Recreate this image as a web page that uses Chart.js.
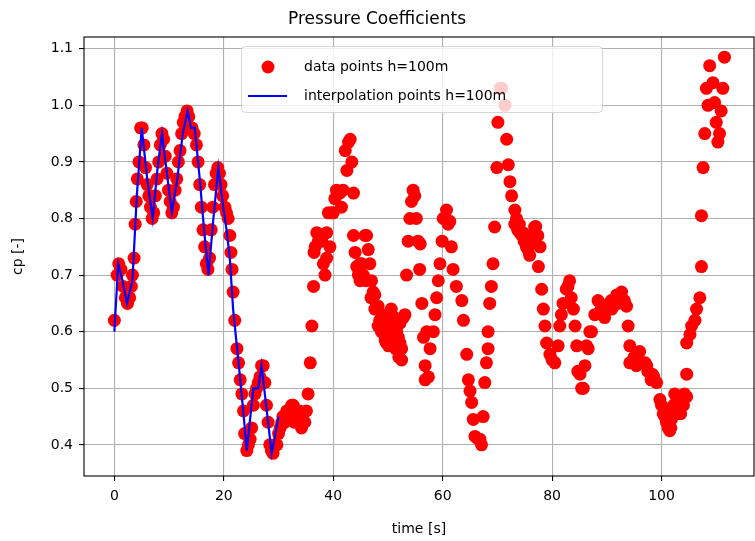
<!DOCTYPE html>
<html>
<head>
<meta charset="utf-8">
<script src="https://cdn.jsdelivr.net/npm/chart.js@4"></script>
<style>
  html, body { margin: 0; padding: 0; background: #fff; }
  #wrap { width: 755px; height: 541px; }
</style>
</head>
<body>
<div id="wrap"><canvas id="cpChart" width="755" height="541"></canvas></div>
<script>
// measured pressure coefficient, h=100m
const timeData = [
  0, 0.5, 0.8, 1.2, 1.6, 2.0, 2.4, 2.8, 3.1, 3.3, 3.6, 3.8, 4.0, 4.2, 4.5, 4.8, 5.1, 5.4, 5.7, 6.0,
  6.3, 6.6, 6.9, 7.2, 7.5, 7.8, 8.1, 8.4, 8.7, 9.0, 9.3, 9.6, 9.9, 10.2, 10.5, 10.8, 11.1, 11.4, 11.7, 12.0,
  12.3, 12.6, 12.9, 13.3, 13.6, 13.9, 14.2, 14.6, 15.0, 15.3, 15.6, 15.9, 16.2, 16.5, 16.8, 17.1, 17.4, 17.7, 18.0, 18.3,
  18.6, 18.9, 19.2, 19.5, 19.8, 20.2, 20.5, 20.8, 21.1, 21.3, 21.5, 21.7, 22.0, 22.4, 22.7, 23.0, 23.3, 23.6, 23.8, 24.2,
  24.5, 24.8, 25.1, 25.4, 25.7, 26.0, 26.3, 26.6, 26.9, 27.2, 27.5, 27.8, 28.1, 28.4, 28.7, 29.0, 29.4, 29.7, 30.0, 30.3,
  30.6, 31.0, 31.2, 31.6, 32.1, 32.4, 32.7, 33.0, 33.3, 33.6, 34.2, 34.8, 35.1, 35.4, 35.8, 36.1, 36.4, 36.5, 36.7, 37.0,
  37.3, 37.6, 37.9, 38.2, 38.5, 38.8, 38.8, 39.1, 39.4, 39.7, 40.0, 40.3, 40.6, 41.2, 41.5, 41.8, 42.2, 42.5, 42.8, 43.1,
  43.4, 43.7, 43.7, 44.3, 44.6, 44.9, 45.2, 45.8, 46.1, 46.4, 46.7, 47.0, 47.3, 47.6, 47.9, 48.2, 48.5, 48.9, 49.1, 49.2,
  49.5, 49.7, 50.0, 50.1, 50.6, 51.0, 51.2, 51.6, 52.2, 52.2, 52.5, 52.5, 52.8, 53.1, 53.4, 53.7, 54.0, 54.3, 54.6, 54.9,
  55.2, 55.5, 55.8, 55.9, 56.2, 56.5, 56.8, 56.8, 57.1, 57.4, 57.7, 58.3, 58.6, 58.9, 59.2, 59.5, 59.9, 60.1, 60.7, 61.0,
  61.3, 61.6, 61.9, 62.5, 63.5, 63.8, 64.4, 64.7, 65.0, 65.3, 65.6, 65.9, 66.5, 66.8, 67.1, 67.4, 67.7, 68.0, 68.3, 68.3,
  68.6, 68.9, 69.2, 69.5, 69.9, 70.1, 70.5, 70.8, 71.4, 71.7, 72.0, 72.3, 72.6, 73.2, 73.2, 73.7, 74.1, 74.5, 74.9, 75.3,
  75.9, 76.3, 76.8, 77.0, 77.4, 77.5, 77.8, 78.1, 78.4, 78.7, 79.0, 79.6, 80.0, 80.5, 81.1, 81.4, 81.7, 82.0, 82.6, 82.9,
  83.2, 83.5, 83.9, 84.2, 84.5, 84.7, 85.1, 85.4, 85.7, 86.0, 86.3, 86.6, 86.9, 87.2, 87.8, 88.4, 89.0, 89.6, 90.2, 90.5,
  90.8, 91.2, 91.8, 92.3, 92.7, 93.2, 93.6, 93.9, 94.2, 94.2, 95.0, 95.4, 96.0, 96.6, 97.0, 97.5, 98.1, 98.6, 99.1, 99.7,
  100.0, 100.3, 100.6, 100.9, 101.2, 101.5, 101.8, 102.1, 102.4, 102.7, 103.0, 103.3, 103.8, 104.2, 104.6, 104.6, 104.6, 105.2, 105.5, 106.1,
  106.4, 107.0, 107.3, 107.3, 107.6, 107.9, 108.2, 108.5, 108.8, 109.4, 109.7, 110.0, 110.3, 110.6, 110.9, 111.2, 111.5,
  // denser stretches
  30.8, 31.5, 32.0, 32.9, 33.8, 34.5, 44.0, 44.9, 45.5, 46.0, 46.9, 47.6, 48.2, 48.8, 49.4, 50.3, 50.9, 51.4, 51.9, 52.0,
  73.5, 74.0, 74.7, 75.1, 75.6, 76.1, 76.6, 89.3, 89.9, 90.9, 91.5, 92.0, 97.3, 98.3, 101.0, 101.7, 102.2, 103.5, 104.0
];
const cpData = [
  0.62, 0.70, 0.72, 0.71, 0.68, 0.66, 0.65, 0.66, 0.68, 0.70, 0.73, 0.79, 0.83, 0.87, 0.90, 0.96, 0.96, 0.93, 0.89, 0.86,
  0.84, 0.82, 0.80, 0.81, 0.84, 0.87, 0.90, 0.93, 0.95, 0.94, 0.91, 0.88, 0.85, 0.83, 0.81, 0.82, 0.85, 0.87, 0.90, 0.92,
  0.95, 0.97, 0.98, 0.99, 0.98, 0.96, 0.96, 0.95, 0.93, 0.90, 0.86, 0.82, 0.78, 0.75, 0.72, 0.71, 0.73, 0.78, 0.82, 0.86,
  0.88, 0.89, 0.88, 0.86, 0.84, 0.82, 0.81, 0.80, 0.77, 0.74, 0.71, 0.67, 0.62, 0.57, 0.545, 0.515, 0.49, 0.46, 0.42, 0.39,
  0.40, 0.41, 0.43, 0.47, 0.49, 0.50, 0.51, 0.52, 0.54, 0.54, 0.51, 0.47, 0.44, 0.40, 0.39, 0.385, 0.40, 0.40, 0.42, 0.43,
  0.44, 0.44, 0.44, 0.45, 0.46, 0.47, 0.47, 0.46, 0.45, 0.445, 0.43, 0.44, 0.46, 0.49, 0.545, 0.61, 0.68, 0.74, 0.75, 0.775,
  0.76, 0.77, 0.76, 0.72, 0.70, 0.73, 0.775, 0.81, 0.75, 0.81, 0.81, 0.835, 0.85, 0.845, 0.82, 0.85, 0.92, 0.885, 0.935, 0.94,
  0.90, 0.845, 0.77, 0.715, 0.70, 0.69, 0.72, 0.77, 0.77, 0.745, 0.72, 0.69, 0.67, 0.665, 0.645, 0.645, 0.62, 0.63, 0.60, 0.605,
  0.585, 0.58, 0.59, 0.575, 0.64, 0.62, 0.625, 0.60, 0.615, 0.58, 0.55, 0.57, 0.625, 0.63, 0.70, 0.76, 0.80, 0.83, 0.85, 0.84,
  0.80, 0.76, 0.71, 0.755, 0.65, 0.59, 0.54, 0.515, 0.60, 0.52, 0.57, 0.60, 0.63, 0.66, 0.69, 0.72, 0.76, 0.80, 0.815, 0.79,
  0.795, 0.75, 0.71, 0.68, 0.655, 0.62, 0.56, 0.515, 0.495, 0.475, 0.445, 0.415, 0.41, 0.41, 0.40, 0.45, 0.51, 0.545, 0.57, 0.60,
  0.65, 0.68, 0.72, 0.785, 0.89, 0.97, 1.03, 1.03, 1.00, 0.94, 0.895, 0.865, 0.84, 0.815, 0.79, 0.78, 0.775, 0.77, 0.76, 0.75,
  0.735, 0.77, 0.785, 0.786, 0.77, 0.715, 0.75, 0.675, 0.64, 0.61, 0.58, 0.56, 0.55, 0.545, 0.575, 0.61, 0.63, 0.65, 0.675, 0.68,
  0.69, 0.66, 0.64, 0.61, 0.575, 0.53, 0.525, 0.50, 0.50, 0.54, 0.575, 0.57, 0.60, 0.60, 0.63, 0.655, 0.64, 0.625, 0.64, 0.65,
  0.655, 0.645, 0.665, 0.66, 0.67, 0.655, 0.645, 0.61, 0.575, 0.545, 0.555, 0.54, 0.565, 0.545, 0.545, 0.53, 0.515, 0.52, 0.51, 0.48,
  0.47, 0.455, 0.45, 0.44, 0.43, 0.425, 0.445, 0.46, 0.49, 0.475, 0.455, 0.47, 0.48, 0.49, 0.485, 0.525, 0.58, 0.595, 0.61, 0.62,
  0.64, 0.66, 0.715, 0.805, 0.89, 0.95, 1.03, 1.00, 1.07, 1.04, 1.005, 0.97, 0.935, 0.95, 0.99, 1.03, 1.085,
  0.45, 0.46, 0.45, 0.44, 0.46, 0.44, 0.74, 0.72, 0.70, 0.69, 0.66, 0.64, 0.61, 0.60, 0.62, 0.60, 0.585, 0.57, 0.59, 0.555,
  0.80, 0.79, 0.775, 0.765, 0.745, 0.755, 0.76, 0.63, 0.64, 0.64, 0.655, 0.65, 0.54, 0.525, 0.46, 0.43, 0.47, 0.455, 0.47
];

// interpolated curve over the first 30 s
const interpTime = [0, 0.7, 1.5, 2.3, 3.3, 4.1, 5.0, 6.0, 7.0, 7.9, 8.7, 9.6, 10.5, 11.5, 12.5, 13.4, 14.0, 14.7,
  15.6, 16.4, 17.2, 18.1, 19.0, 19.9, 20.5, 21.1, 21.7, 22.7, 23.6, 24.2, 25.4, 26.3, 26.9, 28.75, 30.0];
const interpCp = [0.60, 0.72, 0.69, 0.65, 0.69, 0.84, 0.96, 0.87, 0.80, 0.89, 0.95, 0.88, 0.81, 0.87, 0.95, 0.99, 0.96, 0.96,
  0.87, 0.78, 0.70, 0.80, 0.89, 0.82, 0.78, 0.73, 0.64, 0.545, 0.455, 0.39, 0.50, 0.50, 0.54, 0.385, 0.45];

const xTicks = [0, 20, 40, 60, 80, 100];
const yTicks = [0.4, 0.5, 0.6, 0.7, 0.8, 0.9, 1.0, 1.1];

const FONT = 'DejaVu Sans';
const GRID = '#b0b0b0';

// matplotlib-like frame and legend box
const frameAndLegend = {
  id: 'frameAndLegend',
  afterDatasetsDraw(chart) {
    const ctx = chart.ctx;
    const x0 = 241, y0 = 46, w = 361, h = 66, r = 4;
    ctx.save();
    ctx.beginPath();
    ctx.roundRect(x0 + 0.5, y0 + 0.5, w, h, r);
    ctx.fillStyle = 'rgba(255,255,255,0.8)';
    ctx.fill();
    ctx.strokeStyle = 'rgba(204,204,204,0.8)';
    ctx.lineWidth = 1;
    ctx.stroke();

    const red = chart.data.datasets[1];
    const blue = chart.data.datasets[0];
    ctx.font = '14px "' + FONT + '"';
    ctx.textBaseline = 'middle';

    ctx.beginPath();
    ctx.arc(268, 67, red.pointRadius, 0, Math.PI * 2);
    ctx.fillStyle = red.backgroundColor;
    ctx.fill();
    ctx.fillStyle = '#000';
    ctx.fillText(red.label, 304, 67);

    ctx.beginPath();
    ctx.moveTo(248, 96);
    ctx.lineTo(287, 96);
    ctx.strokeStyle = blue.borderColor;
    ctx.lineWidth = blue.borderWidth;
    ctx.stroke();
    ctx.fillText(blue.label, 304, 96);
    ctx.restore();
  },
  afterDraw(chart) {
    const {ctx, chartArea: a} = chart;
    ctx.save();
    ctx.strokeStyle = '#000';
    ctx.lineWidth = 1.1;
    ctx.strokeRect(a.left, a.top, a.right - a.left, a.bottom - a.top);
    ctx.restore();
  }
};

new Chart(document.getElementById('cpChart'), {
  type: 'scatter',
  data: {
    datasets: [
      {
        label: 'interpolation points h=100m',
        data: interpTime.map((t, i) => ({x: t, y: interpCp[i]})),
        showLine: true,
        borderColor: '#0000ff',
        borderWidth: 2.2,
        pointRadius: 0,
        order: 0
      },
      {
        label: 'data points h=100m',
        data: timeData.map((t, i) => ({x: t, y: cpData[i]})),
        backgroundColor: '#ff0000',
        borderWidth: 0,
        pointRadius: 6.5,
        order: 1
      }
    ]
  },
  options: {
    responsive: false,
    animation: false,
    layout: { autoPadding: false, padding: { top: 0, right: 1, left: 0, bottom: 0 } },
    plugins: {
      legend: { display: false },
      tooltip: { enabled: false },
      title: {
        display: true,
        text: 'Pressure Coefficients',
        color: '#000',
        font: { family: FONT, size: 17, weight: 'normal' },
        padding: { top: 9, bottom: 7.6 }
      }
    },
    scales: {
      x: {
        type: 'linear',
        min: -5.55,
        max: 116.9,
        afterBuildTicks: s => { s.ticks = xTicks.map(v => ({value: v})); },
        afterFit: s => { s.height = 65; },
        ticks: { color: '#000', font: { family: FONT, size: 14 }, padding: 7, maxRotation: 0 },
        grid: { color: GRID, lineWidth: 1.1, tickColor: '#000', tickLength: 5 },
        border: { display: false },
        title: {
          display: true,
          text: 'time [s]',
          color: '#000',
          font: { family: FONT, size: 14 },
          padding: { top: 0, bottom: 3.6 }
        }
      },
      y: {
        type: 'linear',
        min: 0.345,
        max: 1.1207,
        afterBuildTicks: s => { s.ticks = yTicks.map(v => ({value: v})); },
        afterFit: s => { s.width = 84; },
        ticks: { color: '#000', font: { family: FONT, size: 14 }, padding: 6, callback: v => v.toFixed(1) },
        grid: { color: GRID, lineWidth: 1.1, tickColor: '#000', tickLength: 5 },
        border: { display: false },
        title: {
          display: true,
          text: 'cp [-]',
          color: '#000',
          font: { family: FONT, size: 14 },
          padding: { top: 9.6, bottom: 0 }
        }
      }
    }
  },
  plugins: [frameAndLegend]
});
</script>
</body>
</html>
